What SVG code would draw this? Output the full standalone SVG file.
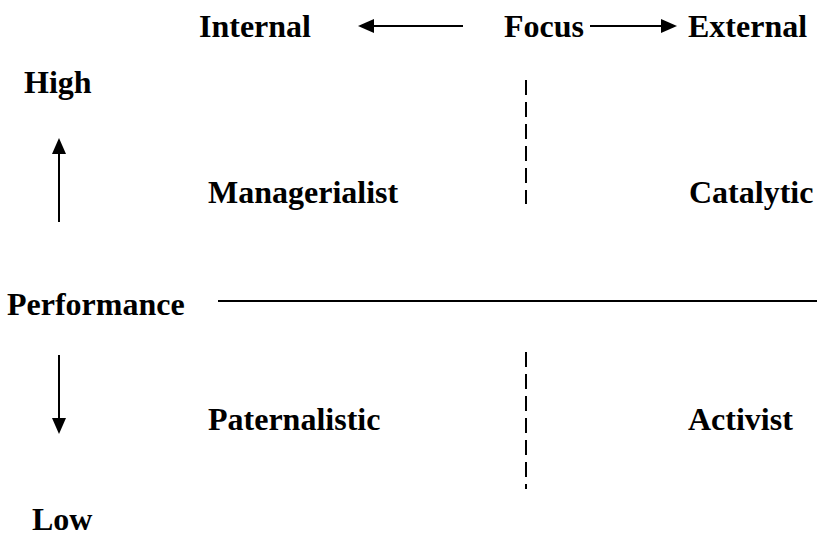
<svg xmlns="http://www.w3.org/2000/svg" width="817" height="538" viewBox="0 0 817 538">
  <style>
    .lbl { font-family: "Liberation Serif", "Times New Roman", serif; font-weight: bold; font-size: 32px; fill: #000; }
    .ln { stroke: #000; stroke-width: 2; fill: none; }
    .dash { stroke: #000; stroke-width: 2; fill: none; stroke-dasharray: 15 7; }
  </style>
  <defs>
    <marker id="ah" markerUnits="userSpaceOnUse" markerWidth="16" markerHeight="14" refX="8" refY="7" orient="auto">
      <path d="M0,0 L16,7 L0,14 z" fill="#000"/>
    </marker>
  </defs>
  <rect width="817" height="538" fill="#fff"/>

  <g id="internal"><text class="lbl" x="199" y="37">Internal</text></g>
  <g id="focus"><text class="lbl" x="504" y="37">Focus</text></g>
  <g id="external"><text class="lbl" x="688" y="37">External</text></g>
  <g id="high"><text class="lbl" x="24" y="93">High</text></g>
  <g id="managerialist"><text class="lbl" x="208" y="203">Managerialist</text></g>
  <g id="catalytic"><text class="lbl" x="689" y="203">Catalytic</text></g>
  <g id="performance"><text class="lbl" x="7" y="315">Performance</text></g>
  <g id="paternalistic"><text class="lbl" x="208" y="430">Paternalistic</text></g>
  <g id="activist"><text class="lbl" x="688" y="430">Activist</text></g>
  <g id="low"><text class="lbl" x="32" y="530">Low</text></g>

  <g id="connectors">
    <line class="ln" x1="463" y1="26" x2="366" y2="26" marker-end="url(#ah)"/>
    <line class="ln" x1="590" y1="26" x2="669" y2="26" marker-end="url(#ah)"/>
    <line class="ln" x1="59" y1="222" x2="59" y2="146" marker-end="url(#ah)"/>
    <line class="ln" x1="59" y1="355" x2="59" y2="426" marker-end="url(#ah)"/>
    <line class="ln" x1="218" y1="301" x2="817" y2="301"/>
    <line class="dash" x1="526" y1="80" x2="526" y2="204"/>
    <line class="dash" x1="526" y1="352" x2="526" y2="489"/>
  </g>
</svg>
